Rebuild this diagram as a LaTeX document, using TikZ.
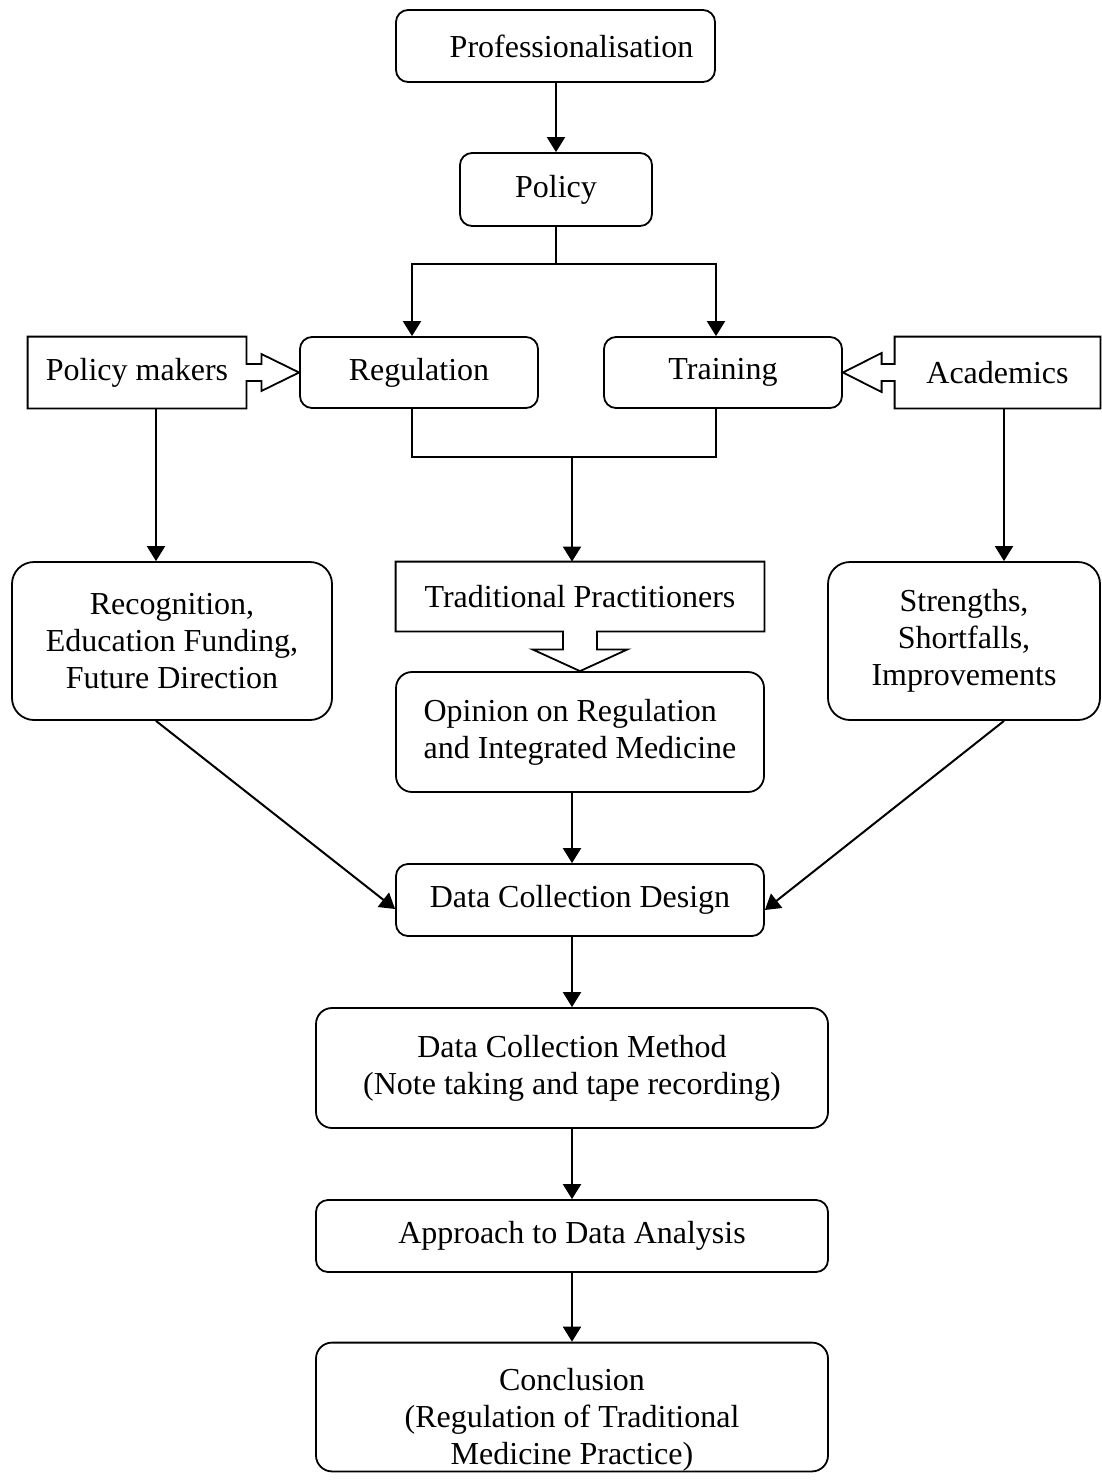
\documentclass[tikz,border=0pt]{standalone}
\usepackage{fontspec}
\setmainfont{Liberation Serif}
\usetikzlibrary{arrows.meta, calc}

\begin{document}
\begin{tikzpicture}[x=0.5pt, y=-0.5pt,
    font=\fontsize{16}{18.5}\selectfont,
    box/.style={draw, line width=0.9pt, rounded corners=6pt, align=center, inner sep=0pt},
    midbox/.style={box, rounded corners=8pt},
    bigbox/.style={box, rounded corners=11pt},
    callout/.style={align=center, inner sep=0pt},
    edge/.style={line width=0.9pt},
    conn/.style={line width=1pt, -{Triangle[length=7.5pt, width=9pt]}},
    link/.style={line width=1pt}]
    \useasboundingbox (0,0) rectangle (1102,1484);

    \node[box, minimum width=159.5pt, minimum height=36pt] (prof) at (555.5,46) {\hspace*{16pt}Professionalisation};
    \node[box, minimum width=96pt, minimum height=36.5pt] (pol) at (556,189.5) {Policy};
    \node[box, minimum width=119pt, minimum height=35.5pt] (reg) at (419,372.5) {Regulation};
    \node[box, minimum width=119pt, minimum height=35.5pt] (trn) at (723,372.5) {Training};
    \node[callout, minimum width=109pt, minimum height=35.5pt] (pmk) at (137,372.5) {Policy makers};
    \node[callout, minimum width=102.5pt, minimum height=35.5pt] (aca) at (997.5,372.5) {Academics};
    \node[bigbox, minimum width=160pt, minimum height=79pt] (rec) at (172,641) {Recognition,\\Education Funding,\\Future Direction};
    \node[callout, minimum width=184pt, minimum height=34.5pt] (trp) at (580,596.5) {Traditional Practitioners};
    \node[midbox, minimum width=184pt, minimum height=60pt, align=left] (opn) at (580,732) {Opinion on Regulation\\and Integrated Medicine};
    \node[bigbox, minimum width=136pt, minimum height=79pt] (str) at (964,641) {Strengths,\\Shortfalls,\\Improvements};
    \node[box, minimum width=184pt, minimum height=36pt] (dcd) at (580,900) {Data Collection Design};
    \node[midbox, minimum width=256pt, minimum height=60pt] (mth) at (572,1068) {Data Collection Method\\(Note taking and tape recording)};
    \node[box, minimum width=256pt, minimum height=36pt] (apr) at (572,1236) {Approach to Data Analysis};
    \node[midbox, minimum width=256pt, minimum height=63pt] (con) at (572,1407) {\rule{0pt}{24pt}Conclusion\\(Regulation of Traditional\\Medicine Practice)};

    \draw[edge] (pmk.north west) -- (pmk.north east) -- ($(pmk.east)+(0,-8.5)$) -- ($(pmk.east)+(15,-8.5)$)
        -- ($(pmk.east)+(15,-18.5)$) -- (reg.west) -- ($(pmk.east)+(15,18.5)$) -- ($(pmk.east)+(15,8.5)$)
        -- ($(pmk.east)+(0,8.5)$) -- (pmk.south east) -- (pmk.south west) -- cycle;
    \draw[edge] (aca.north east) -- (aca.north west) -- ($(aca.west)+(0,-8.5)$) -- ($(aca.west)+(-13,-8.5)$)
        -- ($(aca.west)+(-13,-19.5)$) -- (trn.east) -- ($(aca.west)+(-13,19.5)$) -- ($(aca.west)+(-13,8.5)$)
        -- ($(aca.west)+(0,8.5)$) -- (aca.south west) -- (aca.south east) -- cycle;
    \draw[edge] (trp.south east) -- ($(trp.south)+(17,0)$) -- ($(trp.south)+(17,18)$) -- ($(trp.south)+(47.5,18)$)
        -- (opn.north) -- ($(trp.south)+(-47.5,18)$) -- ($(trp.south)+(-17,18)$) -- ($(trp.south)+(-17,0)$)
        -- (trp.south west) -- (trp.north west) -- (trp.north east) -- cycle;

    \coordinate (splitL) at (412,264);
    \coordinate (splitR) at (716,264);
    \coordinate (mergeL) at (412,457);
    \coordinate (mergeR) at (716,457);
    \coordinate (mergeM) at (572,457);

    \draw[conn] (pol.north |- prof.south) -- (pol.north);
    \draw[conn] (pol.south) |- (splitL) -- (splitL |- reg.north);
    \draw[conn] (pol.south |- splitL) -| (splitR |- trn.north);
    \draw[link] (mergeL |- reg.south) -- (mergeL) -- (mergeR) -- (mergeR |- trn.south);
    \draw[conn] (mergeM) -- (mergeM |- trp.north);
    \draw[conn] ([xshift=9.5pt]pmk.south) -- ([xshift=9.5pt]pmk.south |- rec.north);
    \draw[conn] ([xshift=3.25pt]aca.south) -- ([xshift=3.25pt]aca.south |- str.north);
    \draw[conn] ([xshift=-8pt]rec.south) -- ([yshift=-4.5pt]dcd.west);
    \draw[conn] ([xshift=20pt]str.south) -- ([yshift=-5pt]dcd.east);
    \draw[conn] ([xshift=-4pt]opn.south) -- ([xshift=-4pt]opn.south |- dcd.north);
    \draw[conn] (mth.north |- dcd.south) -- (mth.north);
    \draw[conn] (mth.south) -- (apr.north);
    \draw[conn] (apr.south) -- (con.north);
\end{tikzpicture}
\end{document}
